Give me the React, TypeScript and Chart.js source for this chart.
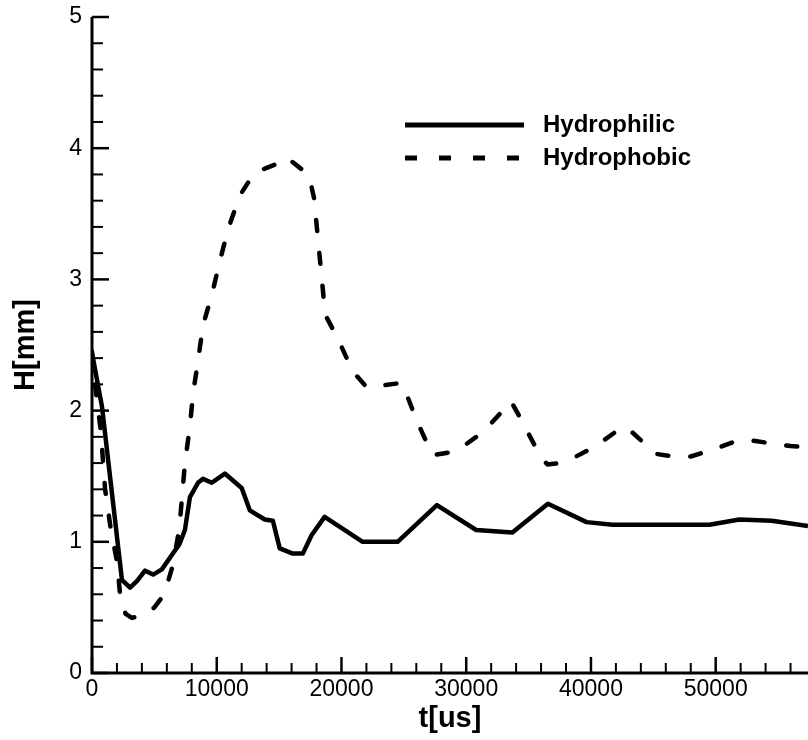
import { useEffect, useRef } from "react";
import { Chart, registerables } from "chart.js";

Chart.register(...registerables);

const FONT = "'Liberation Sans', Arial, Helvetica, sans-serif";

// Hydrophilic droplet height H[mm] versus time t[us]
const philicT = [0, 800, 2400, 3050, 3600, 4250, 4900, 5600, 6400, 7000, 7450, 7850, 8500, 8900, 9600, 10650, 12000, 12650, 13850, 14500, 15050, 16100, 16900, 17600, 18650, 21700, 24500, 27650, 30800, 33700, 36550, 39650, 41750, 49500, 51900, 54500, 57400];
const philicH = [2.44, 2.03, 0.71, 0.65, 0.7, 0.78, 0.75, 0.79, 0.9, 0.98, 1.09, 1.34, 1.45, 1.48, 1.45, 1.52, 1.41, 1.24, 1.17, 1.16, 0.95, 0.91, 0.91, 1.05, 1.19, 1.0, 1.0, 1.28, 1.09, 1.07, 1.29, 1.15, 1.13, 1.13, 1.17, 1.16, 1.12];

// Hydrophobic droplet height H[mm] versus time t[us]
const phobicT = [0, 100, 700, 1050, 1500, 2000, 2300, 2700, 3200, 4400, 5000, 5800, 6500, 7000, 7450, 7850, 8100, 8500, 8900, 9600, 10250, 10900, 11850, 13000, 14000, 14800, 15600, 16800, 17450, 17800, 18700, 19700, 20900, 22000, 23000, 24800, 25200, 26000, 27300, 29200, 31400, 33600, 34300, 35900, 36500, 37500, 38600, 40400, 42300, 42900, 45200, 46600, 48000, 50000, 51700, 53000, 54500, 56000, 57400];
const phobicH = [2.45, 2.3, 1.85, 1.4, 1.1, 0.85, 0.55, 0.45, 0.42, 0.45, 0.5, 0.6, 0.83, 1.1, 1.6, 1.88, 2.13, 2.38, 2.65, 2.88, 3.14, 3.38, 3.64, 3.81, 3.85, 3.88, 3.93, 3.84, 3.77, 3.62, 2.73, 2.55, 2.3, 2.18, 2.19, 2.21, 2.13, 1.93, 1.66, 1.69, 1.84, 2.07, 1.95, 1.66, 1.59, 1.6, 1.64, 1.73, 1.86, 1.87, 1.67, 1.65, 1.65, 1.71, 1.77, 1.77, 1.75, 1.73, 1.72];

const seriesNames = ["Hydrophilic", "Hydrophobic"];

// Labelled tick values
const xTickValues = [0, 10000, 20000, 30000, 40000, 50000];
const yTickValues = [0, 1, 2, 3, 4, 5];

const X_MIN = 0;
const X_MAX = 57400;
const X_MINOR = 2000;
const Y_MIN = 0;
const Y_MAX = 5;
const Y_MINOR_PER_MAJOR = 5;

const toPoints = (t: number[], h: number[]) => t.map((x, i) => ({ x, y: h[i] }));

// Axis lines with inward-pointing major and minor tick marks
const insideAxes = {
  id: "insideAxes",
  afterDatasetsDraw(chart: any) {
    const { ctx, chartArea: a, scales } = chart;
    const xs = scales.x;
    const ys = scales.y;
    ctx.save();
    ctx.strokeStyle = "#000";
    ctx.lineCap = "butt";
    for (let v = X_MIN; v <= xs.max + 1e-6; v += X_MINOR) {
      const major = xTickValues.includes(v) || v % 10000 === 0;
      const px = xs.getPixelForValue(v);
      ctx.lineWidth = major ? 2.5 : 2;
      ctx.beginPath();
      ctx.moveTo(px, a.bottom);
      ctx.lineTo(px, a.bottom - (major ? 16 : 10));
      ctx.stroke();
    }
    const nMinor = (Y_MAX - Y_MIN) * Y_MINOR_PER_MAJOR;
    for (let i = 0; i <= nMinor; i++) {
      const v = Y_MIN + i / Y_MINOR_PER_MAJOR;
      const major = i % Y_MINOR_PER_MAJOR === 0;
      const py = ys.getPixelForValue(v);
      ctx.lineWidth = major ? 2.5 : 2;
      ctx.beginPath();
      ctx.moveTo(a.left, py);
      ctx.lineTo(a.left + (major ? 17 : 11), py);
      ctx.stroke();
    }
    ctx.lineWidth = 3;
    ctx.beginPath();
    ctx.moveTo(a.left, a.top);
    ctx.lineTo(a.left, a.bottom);
    ctx.lineTo(a.right, a.bottom);
    ctx.stroke();
    ctx.restore();
  },
};

// Legend placed inside the plot, upper middle
const innerLegend = {
  id: "innerLegend",
  afterDraw(chart: any) {
    const { ctx, chartArea: a } = chart;
    const x0 = a.left + 313;
    const x1 = x0 + 119;
    const rows = [a.top + 108, a.top + 141];
    ctx.save();
    chart.data.datasets.forEach((ds: any, i: number) => {
      const y = rows[i];
      ctx.strokeStyle = "#000";
      ctx.lineWidth = 5;
      ctx.lineCap = "butt";
      ctx.setLineDash(ds.borderDash && ds.borderDash.length ? [12, 22] : []);
      ctx.beginPath();
      ctx.moveTo(x0, y);
      ctx.lineTo(x1, y);
      ctx.stroke();
      ctx.setLineDash([]);
      ctx.fillStyle = "#000";
      ctx.font = `bold 24px ${FONT}`;
      ctx.textAlign = "left";
      ctx.textBaseline = "middle";
      ctx.fillText(ds.label, x1 + 19, y);
    });
    ctx.restore();
  },
};

export default function App() {
  const canvasRef = useRef<HTMLCanvasElement | null>(null);

  useEffect(() => {
    document.body.style.margin = "0";
    document.body.style.overflow = "hidden";
    const canvas = canvasRef.current;
    if (!canvas) return;
    const chart = new Chart(canvas, {
      type: "line",
      data: {
        datasets: [
          {
            label: seriesNames[0],
            data: toPoints(philicT, philicH),
            borderColor: "#000",
            borderWidth: 4.5,
            borderJoinStyle: "round",
            pointRadius: 0,
            tension: 0,
            fill: false,
          },
          {
            label: seriesNames[1],
            data: toPoints(phobicT, phobicH),
            borderColor: "#000",
            borderWidth: 4.5,
            borderDash: [11, 22],
            borderCapStyle: "round",
            borderJoinStyle: "round",
            pointRadius: 0,
            tension: 0,
            fill: false,
          },
        ],
      },
      options: {
        animation: false,
        responsive: false,
        maintainAspectRatio: false,
        layout: { padding: { top: 17, right: 0, bottom: 0, left: 0 } },
        plugins: {
          legend: { display: false },
          tooltip: { enabled: false },
        },
        scales: {
          x: {
            type: "linear",
            min: X_MIN,
            max: X_MAX,
            afterBuildTicks: (s: any) => {
              s.ticks = xTickValues.map((value) => ({ value }));
            },
            afterFit: (s: any) => {
              s.height = 67;
              s.paddingLeft = 0;
              s.paddingRight = 0;
            },
            ticks: {
              callback: (v: any) => String(v),
              font: { family: FONT, size: 23 },
              color: "#000",
              padding: 3,
              maxRotation: 0,
              autoSkip: false,
            },
            grid: { display: false, drawTicks: false },
            border: { display: false },
            title: {
              display: true,
              text: "t[us]",
              color: "#000",
              font: { family: FONT, size: 29, weight: "bold" },
              padding: { top: 0, bottom: 4 },
            },
          },
          y: {
            type: "linear",
            min: Y_MIN,
            max: Y_MAX,
            afterBuildTicks: (s: any) => {
              s.ticks = yTickValues.map((value) => ({ value }));
            },
            afterFit: (s: any) => {
              s.width = 92;
              s.paddingTop = 0;
              s.paddingBottom = 0;
            },
            ticks: {
              callback: (v: any) => String(v),
              font: { family: FONT, size: 23 },
              color: "#000",
              padding: 10,
            },
            grid: { display: false, drawTicks: false },
            border: { display: false },
            title: {
              display: true,
              text: "H[mm]",
              color: "#000",
              font: { family: FONT, size: 29, weight: "bold" },
              padding: { top: 9, bottom: 0 },
            },
          },
        },
      },
      plugins: [insideAxes, innerLegend],
    });
    return () => chart.destroy();
  }, []);

  return (
    <div style={{ width: 808, height: 740, background: "#fff" }}>
      <canvas ref={canvasRef} width={808} height={740} style={{ display: "block" }} />
    </div>
  );
}
